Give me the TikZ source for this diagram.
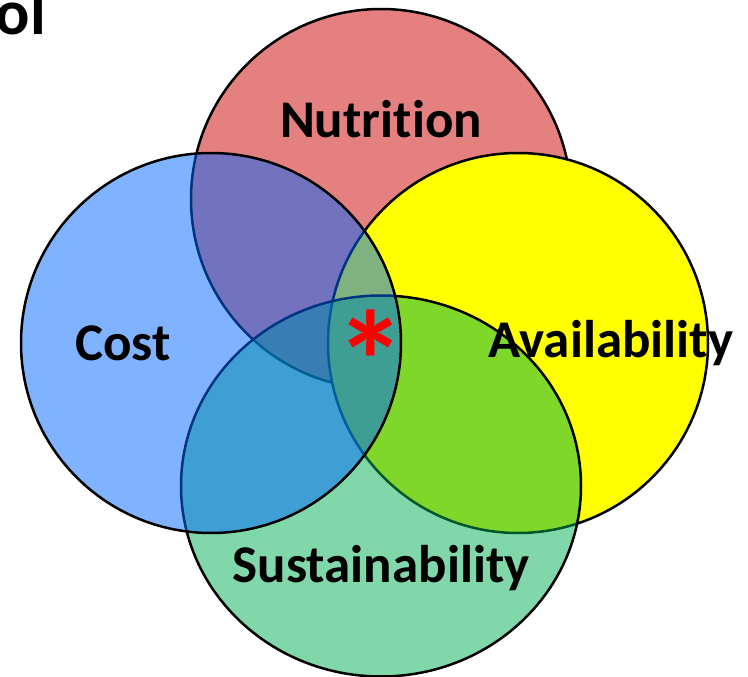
\documentclass[tikz,border=0pt]{standalone}
\usepackage{fontspec}
\setmainfont{Carlito}[Ligatures=NoCommon]
\usetikzlibrary{positioning,shapes.geometric}
\definecolor{nutred}{RGB}{229,128,128}
\definecolor{availyellow}{RGB}{255,255,0}
\definecolor{sustgreen}{RGB}{0,176,85}
\definecolor{costblue}{RGB}{0,102,255}
\tikzset{
  set/.style={circle,draw=black,line width=2.5pt,minimum size=380pt,inner sep=0pt},
  setlabel/.style={font=\fontsize{53}{60}\selectfont\bfseries,anchor=base,inner sep=0pt}
}

\begin{document}
\begin{tikzpicture}[x=1pt,y=-1pt]
\useasboundingbox (0,0) rectangle (748,677);
\node[set,fill=nutred](nutrition) at (381,199){};
\node[set,fill=availyellow,on grid,below right=144pt and 137pt of nutrition](availability){};
\node[set,ellipse,fill=sustgreen,fill opacity=.5,minimum width=400pt,minimum height=381pt,on grid,below=287pt of nutrition](sustainability){};
\node[set,fill=costblue,fill opacity=.5,on grid,below left=144pt and 170pt of nutrition](cost){};
\node[setlabel](nutritionlabel) at (381,137){Nutrition};
\node[setlabel](costlabel) at (123,360){Cost};
\node[setlabel](availabilitylabel) at (611,357){Availability};
\node[setlabel](sustainabilitylabel) at (381,582){Sustainability};
\node[setlabel,font=\fontsize{142}{150}\selectfont\bfseries,text=red](core) at (371,411){*};
\node[setlabel,font=\fontsize{64}{70}\selectfont\bfseries,anchor=base east](title) at (46,35){ol};
\end{tikzpicture}
\end{document}
